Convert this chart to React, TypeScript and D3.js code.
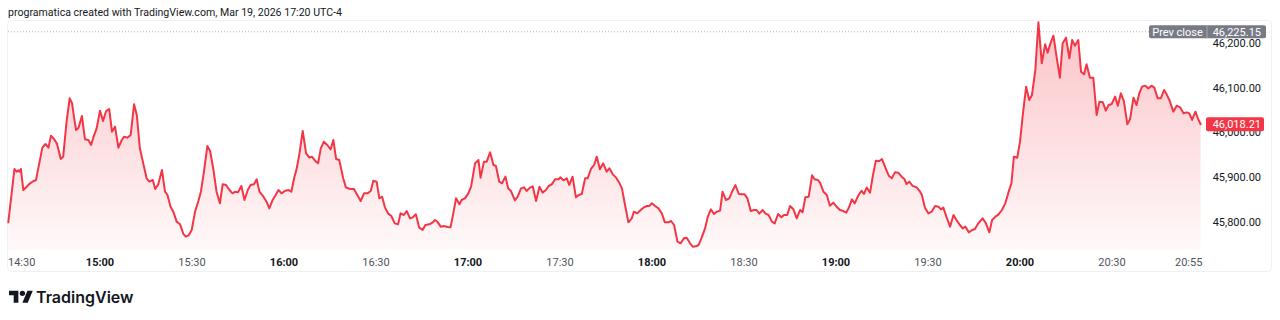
import React from "react";
import * as d3 from "d3";

// Minutes elapsed since 14:30 (1-minute session, Mar 19 2026)
const minutes = [
  0.1, 2.1, 2.8, 3.4, 3.7, 4.2, 5.0, 6.1, 7.2, 8.3,
  9.1, 10.2, 11.2, 12.2, 13.2, 14.0, 15.0, 15.9, 16.5, 17.2,
  18.0, 19.1, 20.1, 20.9, 21.5, 22.2, 23.0, 24.1, 25.1, 26.2,
  27.1, 27.8, 28.9, 30.0, 31.0, 32.0, 33.0, 33.9, 34.9, 36.0,
  37.1, 37.9, 38.9, 40.0, 41.1, 42.0, 43.0, 44.1, 45.2, 46.1,
  47.2, 48.0, 49.0, 50.2, 51.2, 52.0, 53.0, 53.9, 55.0, 56.1,
  57.2, 58.0, 59.0, 59.9, 61.0, 62.0, 62.9, 63.9, 65.0, 65.9,
  67.0, 68.0, 69.1, 70.0, 71.1, 72.2, 73.2, 74.1, 75.0, 76.1,
  77.1, 78.2, 79.1, 80.2, 81.1, 82.0, 83.3, 84.3, 85.2, 86.3,
  87.3, 88.2, 89.2, 90.4, 91.5, 92.4, 93.3, 94.1, 95.0, 96.1,
  97.2, 98.3, 99.1, 100.2, 101.1, 102.0, 103.0, 104.1, 105.2, 106.1,
  107.0, 108.0, 109.3, 110.2, 111.5, 112.8, 113.9, 115.0, 116.1, 117.2,
  118.3, 119.1, 120.2, 121.1, 122.0, 122.9, 124.0, 125.0, 126.1, 127.2,
  128.0, 129.1, 130.0,
  131.1, 132.0, 133.0, 134.1, 135.2, 136.1, 137.4, 138.5, 139.2, 140.0,
  141.1, 142.2, 143.3, 144.3, 145.2, 146.1, 147.2, 147.9, 149.0, 150.1,
  151.0, 152.3, 153.4, 154.1, 155.2, 156.1, 157.2, 158.3, 159.1, 160.2,
  161.1, 162.2, 163.1, 164.0, 165.3, 166.2, 167.3, 168.3, 169.1, 170.2,
  171.1, 172.2, 173.3, 174.3, 175.4, 176.3, 177.3, 178.4, 179.5, 180.2,
  181.1, 182.2, 183.0, 184.1, 185.2, 186.1, 187.1, 188.2, 189.0, 190.1,
  191.1, 192.0, 193.0, 194.1, 195.2, 196.1, 197.2, 198.3, 199.3, 200.2,
  201.2, 202.3, 203.4, 204.1, 205.2, 206.3, 207.2, 208.3, 209.1, 210.0,
  211.0, 212.1, 213.2, 214.2, 215.3, 216.2, 217.2, 218.3, 219.3, 220.4,
  221.3, 222.4, 223.3, 224.3, 225.2, 226.2, 227.3, 228.2, 229.2, 230.2,
  231.1, 232.2, 233.0, 234.1, 235.2, 236.1, 237.2, 238.3, 239.3, 240.2,
  241.1, 242.2, 243.3, 244.1, 245.0, 246.1, 247.0, 248.0, 249.1, 250.0,
  251.1, 252.2, 253.0, 254.1, 255.0, 256.1, 257.2, 258.3, 259.1, 260.0,
  261.1, 262.2, 263.0, 264.1,
  264.8, 265.9, 267.0, 268.0, 269.1, 270.2, 271.3, 272.4, 273.3, 274.1,
  275.2, 276.1, 277.2, 278.3, 279.1, 280.0, 281.1, 282.0, 283.0, 284.1,
  285.0, 286.1, 287.2, 288.2, 289.2, 290.3, 291.4, 292.3, 293.0, 293.9,
  295.0, 296.3, 297.4, 298.0, 299.0, 300.1, 301.2, 302.3, 303.4, 304.2,
  305.0, 306.1, 307.2, 308.3, 309.4, 310.4, 311.3, 312.2, 313.3, 314.4,
  315.3, 316.4, 317.8, 318.9, 320.0, 320.9, 322.0, 323.0, 324.1, 325.2,
  326.3, 327.2, 328.0, 329.1, 330.0, 330.9, 332.0, 333.0, 333.9, 335.0,
  336.0, 337.1, 338.2, 339.0, 340.0, 340.9, 342.0, 343.0, 343.9, 345.0,
  346.1, 347.0, 347.9, 349.0, 349.9, 350.9, 351.7, 352.8, 353.9, 355.0,
  355.9, 357.0, 358.0, 358.9, 359.9, 361.0, 361.9, 362.9, 363.9, 365.0,
  365.9, 367.0, 368.0, 368.9, 369.8, 370.8, 371.9, 372.9, 373.8, 374.9,
  375.9, 377.0, 377.8, 378.7, 380.0, 381.1, 382.2, 383.3, 384.4, 385.2,
  386.1, 387.2, 388.0, 388.9,
];

const prices = [
  45798.6, 45918.0, 45912.0, 45915.0, 45912.0, 45918.0, 45870.9, 45878.4, 45885.9, 45891.1,
  45892.6, 45930.6, 45965.7, 45973.9, 45965.7, 45992.6, 45985.1, 45975.4, 45960.5, 45940.3,
  45945.6, 46023.9, 46076.1, 46065.0, 46035.1, 46005.3, 46010.5, 46036.6, 45984.4, 45982.9,
  45971.7, 45988.1, 46009.0, 46048.5, 46025.4, 46047.8, 46052.3, 46001.5, 46012.7, 45965.7,
  45982.9, 45990.3, 45988.1, 45994.1, 46062.7, 46038.8, 45964.2, 45930.6, 45897.1, 45889.6,
  45893.3, 45873.2, 45883.6, 45915.7, 45867.2, 45859.8, 45833.6, 45822.4, 45800.1, 45794.1,
  45772.4, 45766.5, 45770.2, 45781.4, 45822.4, 45844.8, 45867.2, 45912.0, 45969.4, 45958.3,
  45915.7, 45867.2, 45841.1, 45883.6, 45882.1, 45870.9, 45863.5, 45867.2, 45865.7, 45879.9,
  45848.6, 45870.9, 45882.1, 45883.6, 45894.8, 45867.2, 45856.0, 45844.8, 45829.9, 45848.6,
  45859.8, 45870.9, 45863.5, 45869.4, 45870.9, 45867.2, 45897.1, 45918.0, 45950.8, 46003.0,
  45953.0, 45943.3, 45945.6, 45935.9, 45930.6, 45964.2, 45979.1, 45971.7, 45962.0, 45982.9,
  45940.3, 45938.1, 45897.1, 45876.9, 45873.2, 45873.2, 45859.8, 45846.3, 45863.5, 45863.5,
  45868.7, 45891.8, 45889.6, 45852.3, 45856.0, 45832.1, 45818.0, 45812.7, 45796.3, 45794.1,
  45818.7, 45815.0, 45823.9,
  45807.5, 45809.8, 45816.5, 45786.6, 45781.4, 45792.6, 45794.1, 45798.6, 45803.8, 45800.1,
  45788.9, 45790.4, 45788.1, 45787.4, 45818.7, 45852.3, 45838.9, 45848.6, 45852.3, 45863.5,
  45878.4, 45930.6, 45938.1, 45898.6, 45934.4, 45934.4, 45955.3, 45926.9, 45924.7, 45889.6,
  45885.9, 45900.8, 45874.7, 45868.7, 45847.8, 45856.0, 45874.7, 45876.9, 45868.7, 45876.2,
  45879.2, 45846.3, 45878.4, 45865.0, 45870.9, 45879.9, 45883.6, 45894.8, 45894.8, 45899.3,
  45892.6, 45897.1, 45882.1, 45900.8, 45854.5, 45859.8, 45862.0, 45897.1, 45897.1, 45918.0,
  45926.9, 45945.6, 45917.2, 45930.6, 45912.0, 45919.5, 45906.0, 45898.6, 45887.4, 45874.7,
  45837.4, 45798.6, 45807.5, 45822.4, 45818.7, 45826.2, 45831.4, 45835.1, 45835.1, 45841.1,
  45835.1, 45829.9, 45818.7, 45798.6, 45798.6, 45801.6, 45792.6, 45755.3, 45751.6, 45762.8,
  45764.2, 45751.6, 45744.1, 45744.8, 45747.8, 45764.2, 45785.1, 45811.3, 45827.7, 45817.2,
  45822.4, 45824.7, 45867.2, 45848.6, 45852.3, 45867.2, 45882.1, 45862.0, 45861.2, 45861.2,
  45852.3, 45823.9, 45826.2, 45826.2, 45818.0, 45826.2, 45818.0, 45815.0, 45800.1, 45796.3,
  45817.2, 45809.8, 45815.0, 45815.0, 45835.1, 45827.7, 45807.5, 45826.2, 45821.0, 45854.5,
  45856.0, 45903.8, 45894.8, 45893.3,
  45887.4, 45867.2, 45859.8, 45835.9, 45842.6, 45833.6, 45826.2, 45823.9, 45820.2, 45829.9,
  45850.1, 45841.1, 45857.5, 45869.4, 45862.0, 45876.2, 45865.0, 45902.3, 45936.6, 45935.9,
  45940.3, 45920.9, 45903.0, 45897.1, 45910.5, 45909.7, 45900.8, 45895.6, 45884.4, 45889.6,
  45879.9, 45876.9, 45867.2, 45859.8, 45831.4, 45818.7, 45822.4, 45835.1, 45833.6, 45827.7,
  45831.4, 45809.0, 45788.9, 45815.0, 45802.3, 45792.6, 45785.1, 45788.9, 45776.2, 45781.4,
  45783.6, 45796.3, 45807.5, 45796.3, 45776.2, 45803.8, 45811.3, 45816.5, 45826.2, 45841.1,
  45867.2, 45885.9, 45945.6, 45943.3, 45979.1, 46038.8, 46102.3, 46072.4, 46083.6, 46139.6,
  46246.3, 46154.5, 46197.0, 46178.4, 46200.8, 46216.4, 46165.7, 46122.4, 46199.3, 46212.0,
  46165.7, 46206.7, 46194.0, 46206.7, 46135.8, 46129.9, 46152.3, 46122.4, 46122.4, 46038.8,
  46068.7, 46067.2, 46048.5, 46061.2, 46063.5, 46079.9, 46059.7, 46087.3, 46068.7, 46017.9,
  46029.9, 46077.6, 46061.2, 46087.3, 46102.3, 46104.5, 46098.5, 46104.5, 46100.0, 46076.1,
  46076.1, 46094.8, 46085.1, 46072.4, 46046.3, 46059.7, 46056.0, 46042.6, 46044.8, 46042.6,
  46027.7, 46046.3, 46031.4, 46018.21,
];

const priceTicks = [45800, 45900, 46000, 46100, 46200];
const timeTickMinutes = [0, 30, 60, 90, 120, 150, 180, 210, 240, 270, 300, 330, 360, 385];
const timeTickLabels = ["14:30", "15:00", "15:30", "16:00", "16:30", "17:00", "17:30", "18:00", "18:30", "19:00", "19:30", "20:00", "20:30", "20:55"];
const timeTickBold = [false, true, false, true, false, true, false, true, false, true, false, true, false, false];
const prevClose = 46225.15;
const lastPrice = 46018.21;
const headerText = "programatica created with TradingView.com, Mar 19, 2026 17:20 UTC-4";

const FONT = "Roboto, 'Noto Sans', sans-serif";
const RED = "#f23645";

export default function App() {
  const left = 8;
  const paneTop = 21;
  const paneBottom = 250;
  const axisX = 1207;
  const x = d3.scaleLinear().domain([0, 390]).range([left, left + 390 * 3.0667]);
  const y = d3.scaleLinear().domain([45800, 46200]).range([221.7, 43]);
  const pts = minutes.map((m, i) => [m, prices[i]] as [number, number]);
  const line = d3.line<[number, number]>().x((d) => x(d[0])).y((d) => y(d[1]));
  const area = d3
    .area<[number, number]>()
    .x((d) => x(d[0]))
    .y0(paneBottom)
    .y1((d) => y(d[1]));
  const fmt = d3.format(",.2f");
  const labelRight = 1261;
  const yPrev = y(prevClose);
  const yLast = y(lastPrice);

  return (
    <svg
      width={1280}
      height={320}
      style={{ position: "absolute", left: 0, top: 0, background: "#fff" }}
      fontFamily={FONT}
    >
      <defs>
        <linearGradient id="areaGrad" gradientUnits="userSpaceOnUse" x1={0} y1={paneTop} x2={0} y2={paneBottom}>
          <stop offset="0%" stopColor={RED} stopOpacity={0.3} />
          <stop offset="100%" stopColor={RED} stopOpacity={0.03} />
        </linearGradient>
      </defs>
      <rect x={0} y={0} width={1280} height={320} fill="#fff" />
      <text x={8} y={16} fontSize={11.5} fill="#131722" textLength={334} lengthAdjust="spacingAndGlyphs">
        {headerText}
      </text>
      <rect x={7.5} y={paneTop - 0.5} width={1264} height={251} rx={4} fill="none" stroke="#eef0f3" />

      {/* prev close dotted line */}
      <line x1={left} x2={1150} y1={yPrev} y2={yPrev} stroke="#b2b5be" strokeDasharray="1 2" strokeWidth={1} />

      <path d={area(pts) || ""} fill="url(#areaGrad)" />
      <path d={line(pts) || ""} fill="none" stroke={RED} strokeWidth={2} strokeLinejoin="round" strokeLinecap="round" />

      {/* price axis */}
      {priceTicks.map((p) => (
        <text key={p} x={labelRight} y={y(p) + 4} fontSize={11} fill="#131722" textAnchor="end">
          {fmt(p)}
        </text>
      ))}

      {/* prev close label */}
      <rect x={1149} y={yPrev - 6.5} width={117} height={13} rx={2} fill="#787b86" />
      <line x1={axisX} x2={axisX} y1={yPrev - 6.5} y2={yPrev + 6.5} stroke="#a3a6af" strokeWidth={1} />
      <text x={1177.5} y={yPrev + 4} fontSize={11} fill="#fff" textAnchor="middle">
        Prev close
      </text>
      <text x={labelRight} y={yPrev + 4} fontSize={11} fill="#fff" textAnchor="end">
        {fmt(prevClose)}
      </text>

      {/* last price label */}
      <rect x={1206} y={yLast - 7} width={58} height={14} rx={2} fill={RED} />
      <text x={labelRight} y={yLast + 4} fontSize={11} fill="#fff" textAnchor="end">
        {fmt(lastPrice)}
      </text>

      {/* time axis */}
      {timeTickMinutes.map((m, i) => (
        <text
          key={m}
          x={x(m)}
          y={266}
          fontSize={11}
          fill={timeTickBold[i] ? "#131722" : "#50535e"}
          fontWeight={timeTickBold[i] ? 700 : 400}
          textAnchor={i === 0 ? "start" : "middle"}
        >
          {timeTickLabels[i]}
        </text>
      ))}

      {/* TradingView logo */}
      <g transform="translate(9, 288) scale(0.67)" fill="#131722">
        <path d="M14 22H7V11H0V4h14v18zM28 22h-8l7.5-18h8L28 22z" />
        <circle cx={20} cy={8} r={4} />
      </g>
      <text x={36} y={303} fontSize={16} fontWeight={600} fill="#131722" fontFamily="Inter, Roboto, sans-serif">
        TradingView
      </text>
    </svg>
  );
}
